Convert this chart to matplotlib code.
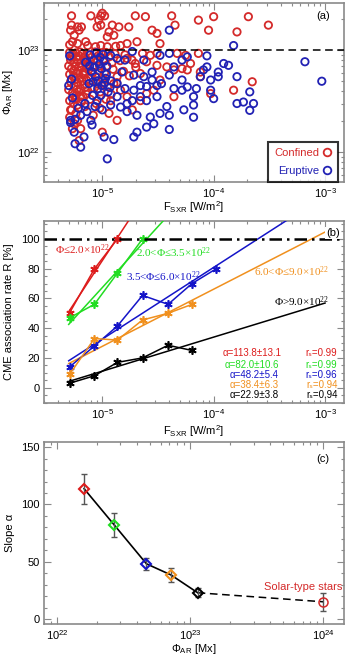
import numpy as np
import matplotlib
matplotlib.use('Agg')
import matplotlib.pyplot as plt
from matplotlib.ticker import LogLocator, MultipleLocator, FuncFormatter, NullFormatter, FixedLocator
from matplotlib.lines import Line2D

plt.rcParams['font.family'] = ['Liberation Sans', 'DejaVu Sans']
plt.rcParams['mathtext.default'] = 'regular'

# ---------------- Panel (a) data: F_SXR in 1e-6 W/m^2, Phi_AR in 1e22 Mx ----------------
confined_points = [
    (5.3, 21.7), (5.3, 17.6), (6.0, 16.9), (6.5, 16.9), (5.2, 15.7), (6.2, 15.7), (5.6, 14.0),
    (7.9, 21.7), (9.7, 21.7), (10.0, 23.0), (10.5, 21.7), (9.3, 19.7), (9.7, 17.6), (9.0, 16.9),
    (11.5, 15.1), (12.3, 17.6), (14.1, 16.9), (17.3, 16.9), (11.1, 13.5), (12.7, 14.0),
    (19.8, 21.7), (24.4, 21.3), (28, 15.7), (31, 14.6), (42, 21.7), (45, 17.6), (73, 19.7),
    (100, 21.3), (90, 15.7), (162, 15.1), (205, 21.3), (310, 17.6),
    (5.4, 12.1), (6.0, 11.6), (7.1, 12.1), (7.4, 11.1), (8.7, 10.8), (9.7, 11.1), (11.1, 10.8),
    (13.2, 10.9), (14.6, 11.1), (16.7, 11.6), (20.5, 12.1), (33, 11.6), (5.1, 11.3),
    (23, 9.3), (27, 8.9), (31, 9.3), (47, 9.3), (56, 8.9), (73, 9.3), (16.7, 8.3), (19.8, 7.4),
    (25, 7.7), (31, 7.1), (38, 6.85), (44, 6.4), (52, 6.6), (62, 7.4), (76, 6.1), (58, 6.4),
    (76, 5.5), (94, 3.75), (151, 4.05), (222, 4.9), (44, 3.5), (33, 5.1), (29, 4.05), (25, 3.75),
    (22, 3.2), (18.6, 2.6), (13.6, 2.05), (11.5, 2.4), (10, 1.57), (22, 5.9), (13.6, 5.5),
    (12.7, 4.7), (14.6, 4.05), (16.7, 3.5), (11.9, 3.2), (10.4, 4.7), (6.0, 2.05), (5.4, 1.7),
    (6.4, 1.7), (6.2, 1.3), (5.2, 2.6),
    (5.1, 9.5), (5.4, 9.0), (5.8, 9.4), (6.2, 8.8), (6.6, 9.2), (7.0, 8.6), (7.5, 9.0), (8.0, 8.5),
    (5.2, 8.0), (5.6, 7.6), (6.0, 8.1), (6.4, 7.5), (6.9, 7.9), (7.3, 7.2), (7.8, 7.7), (8.4, 7.0),
    (5.0, 7.0), (5.3, 6.6), (5.7, 6.9), (6.1, 6.3), (6.5, 6.8), (7.0, 6.2), (7.6, 6.5), (8.2, 6.0),
    (5.1, 5.8), (5.5, 5.5), (5.9, 5.9), (6.3, 5.3), (6.8, 5.7), (7.2, 5.1), (7.9, 5.4), (8.8, 5.0),
    (5.2, 4.9), (5.6, 4.5), (6.0, 4.8), (6.4, 4.2), (6.9, 4.6), (7.4, 4.0), (8.1, 4.3), (5.0, 4.1),
    (5.4, 3.8), (5.8, 3.6), (6.2, 3.9), (6.7, 3.5), (7.2, 3.7), (7.8, 3.3), (5.1, 3.2), (5.5, 3.0),
    (6.0, 2.9), (6.5, 3.1), (7.0, 2.8), (5.3, 2.6), (5.8, 2.4), (5.1, 2.2), (5.6, 1.9),
    (5.3, 8.5), (5.9, 8.6), (6.3, 9.6), (6.8, 8.3), (7.3, 8.0), (5.5, 6.2), (6.2, 6.9), (6.7, 6.0),
    (7.4, 6.9), (5.7, 5.1), (6.6, 5.0), (7.0, 4.3), (5.9, 4.1), (6.4, 3.5), (5.7, 3.3),
    (8.6, 9.6), (9.2, 8.8), (9.8, 9.3), (9.0, 7.8), (9.5, 7.0), (10.3, 8.2), (10.8, 9.5), (11.5, 8.6),
    (12.2, 7.5), (13.0, 9.2), (9.3, 6.3), (10.5, 6.0), (11.0, 7.0), (12.5, 6.5), (9.0, 4.7),
    (10.1, 5.2), (11.2, 4.4), (9.6, 3.9), (10.8, 3.3), (12.0, 3.7), (8.8, 3.0), (9.5, 2.7), (8.3, 2.3),
    (14.5, 7.9), (15.5, 6.2), (16.0, 9.0), (17.5, 5.6), (18.5, 8.0), (20.0, 6.8), (13.5, 4.8),
]
eruptive_points = [
    (40, 15.7), (151, 11.1), (660, 7.7), (935, 4.96),
    (162, 5.5), (136, 7.1), (123, 7.4), (110, 6.1), (110, 5.5), (94, 5.1), (94, 4.05), (100, 3.35),
    (162, 3.0), (185, 3.1), (211, 2.57), (228, 3.0), (211, 3.9), (87, 8.8), (87, 6.85), (81, 6.4),
    (76, 5.5), (70, 4.2), (66, 3.5), (66, 2.9), (54, 2.6), (66, 2.2), (38, 2.8), (33, 2.4),
    (29, 1.9), (40, 2.3), (40, 1.67), (27, 2.21), (25, 1.76), (20.5, 2.3), (19.2, 1.41),
    (20.5, 1.57), (16.7, 2.5), (14.6, 2.77), (12.7, 1.33), (10.4, 1.41), (11.1, 0.86),
    (5.7, 1.21), (6.4, 1.12), (6.85, 1.41), (8.1, 1.85), (7.9, 2.05), (5.6, 1.57), (5.2, 2.05),
    (11.9, 8.9), (13.6, 8.3), (16.0, 8.0), (18.6, 9.7), (23.6, 8.0), (33, 8.9), (40, 9.3),
    (52, 8.0), (58, 8.6), (44, 6.85), (40, 5.7), (34, 4.7), (31, 4.5), (28, 5.1), (25, 4.4),
    (22, 4.5), (19.2, 4.05), (16.0, 4.2), (13.6, 4.7), (15.0, 6.1), (19.2, 5.7), (23.6, 5.5),
    (28, 6.1), (52, 4.05), (58, 4.36), (44, 4.2), (52, 5.1), (31, 3.5), (25, 3.2), (22, 3.5),
    (18.6, 3.2), (16.7, 2.99), (13.6, 3.5), (11.9, 2.9),
    (5.1, 8.8), (5.3, 5.2), (5.4, 3.4), (6.1, 2.7),
    (7.1, 7.6), (7.6, 4.7), (8.0, 6.2), (8.4, 8.0), (8.7, 5.5), (9.1, 4.2), (9.4, 7.3), (9.8, 6.6),
    (10.2, 9.1), (10.5, 4.8), (10.9, 5.8), (11.3, 3.9), (8.2, 3.6), (9.0, 3.2), (7.0, 3.0),
    (6.4, 2.3), (5.2, 1.95), (5.7, 2.1), (7.3, 2.5), (8.6, 2.8), (9.7, 3.6), (10.0, 2.6),
    (11.0, 6.9), (10.4, 7.8), (9.6, 8.5), (8.9, 9.4), (7.8, 9.0), (12.0, 5.0),
    (11.7, 4.3), (9.2, 5.0), (8.3, 4.9), (5.0, 4.5),
    (9.9, 4.5), (10.7, 5.3), (8.5, 6.8), (7.7, 7.0),
]
F_unit = 1e-6
Phi_unit = 1e22
threshold_phi = 1e23

# ---------------- Panel (b) data ----------------
bins_F = [5.1e-6, 8.5e-6, 1.37e-5, 2.3e-5, 3.9e-5, 6.4e-5, 1.06e-4]
R_red = [50.4, 79.8, 100]
R_green = [47, 56, 77, 100]
R_blue = [14, 28, 41.5, 62, 56, 70, 80]
R_orange = [9, 33, 32, 45.5, 50, 56]
R_black = [3, 8, 17, 20, 28.5, 25]
slope_alpha = [113.8, 82.0, 48.2, 38.4, 22.9]
slope_err = [13.1, 10.6, 5.4, 6.3, 3.8]
r_s = [0.99, 0.99, 0.96, 0.94, 0.94]
group_labels = [r'Φ≤2.0×10$^{22}$', r'2.0<Φ≤3.5×10$^{22}$', r'3.5<Φ≤6.0×10$^{22}$',
                r'6.0<Φ≤9.0×10$^{22}$', r'Φ>9.0×10$^{22}$']

# ---------------- Panel (c) data ----------------
phi_groups = [1.6e22, 2.7e22, 4.7e22, 7.2e22, 1.14e23]
star_phi = 1e24
star_alpha = 15
star_err = 8

colors = ['#dd1c1c', '#22dd22', '#1414c8', '#f0901e', '#000000']
RED_SC = '#d42a2a'
BLUE_SC = '#2222b4'
FRAME = '#8a8a8a'

fig = plt.figure(figsize=(3.5, 6.61), dpi=100)
W, H = 350.0, 661.0
def add_ax(l, r, t, b):
    return fig.add_axes([l / W, 1 - b / H, (r - l) / W, (b - t) / H])

axa = add_ax(44, 344, 3, 182)
axb = add_ax(44, 344, 221, 403)
axc = add_ax(44, 344, 442, 624)

def style(ax):
    for s in ax.spines.values():
        s.set_color(FRAME)
        s.set_linewidth(1.2)
    ax.tick_params(which='both', direction='in', top=True, right=True, color=FRAME,
                   labelsize=8, labelcolor='black', width=0.8)
    ax.tick_params(which='major', length=5, pad=3)
    ax.tick_params(which='minor', length=2.5)

pow_fmt = FuncFormatter(lambda v, p: '10$^{%d}$' % round(np.log10(v)))

# ---- (a)
cF = [p[0] * F_unit for p in confined_points]
cP = [p[1] * Phi_unit for p in confined_points]
eF = [p[0] * F_unit for p in eruptive_points]
eP = [p[1] * Phi_unit for p in eruptive_points]
axa.set_xscale('log'); axa.set_yscale('log')
axa.scatter(cF, cP, s=28, facecolors='none', edgecolors=RED_SC, linewidths=1.3, zorder=3)
axa.scatter(eF, eP, s=28, facecolors='none', edgecolors=BLUE_SC, linewidths=1.3, zorder=4)
axa.axhline(threshold_phi, color='black', ls=(0, (5, 3)), lw=1.1, zorder=5)
axa.set_xlim(3.0e-6, 1.48e-3)
axa.set_ylim(5.1e21, 2.9e23)
axa.xaxis.set_major_locator(FixedLocator([1e-5, 1e-4, 1e-3]))
axa.xaxis.set_minor_locator(LogLocator(subs=np.arange(2, 10)))
axa.xaxis.set_major_formatter(pow_fmt)
axa.xaxis.set_minor_formatter(NullFormatter())
axa.yaxis.set_major_locator(FixedLocator([1e22, 1e23]))
axa.yaxis.set_minor_locator(LogLocator(subs=np.arange(2, 10)))
axa.yaxis.set_major_formatter(pow_fmt)
axa.yaxis.set_minor_formatter(NullFormatter())
style(axa)
axa.set_xlabel('F$_{SXR}$ [W/m$^2$]', fontsize=8)
axa.set_ylabel('Φ$_{AR}$ [Mx]', fontsize=8)
axa.xaxis.set_label_coords(0.5, -0.095)
axa.yaxis.set_label_coords(-0.095, 0.5)
axa.text(0.93, 0.93, '(a)', transform=axa.transAxes, ha='center', va='center', fontsize=8)
handles = [Line2D([], [], ls='none', marker='o', mfc='none', mec=RED_SC, mew=1.3, ms=5.5, label='Confined'),
           Line2D([], [], ls='none', marker='o', mfc='none', mec=BLUE_SC, mew=1.3, ms=5.5, label='Eruptive')]
leg = axa.legend(handles=handles, loc='lower right', bbox_to_anchor=(0.98, 0.0), markerfirst=False,
                 fontsize=8, labelcolor='markeredgecolor', frameon=True, fancybox=False,
                 borderaxespad=0.0, handlelength=0.8, handletextpad=0.35, borderpad=0.55,
                 labelspacing=0.7)
leg.get_frame().set_edgecolor('black')
leg.get_frame().set_linewidth(1.5)
leg.set_zorder(10)

# ---- (b)
axb.set_xscale('log')
series = [R_red, R_green, R_blue, R_orange, R_black]
xfit = np.array([bins_F[0] * 0.98, 1e-3])
for R, a, c in zip(series, slope_alpha, colors):
    xs = np.array(bins_F[:len(R)])
    lx = np.log10(xs)
    b0 = np.mean(np.array(R) - a * lx)
    axb.plot(xfit, a * np.log10(xfit) + b0, color=c, lw=1.1, zorder=3)
    axb.plot(xs, R, color=c, lw=1.1, marker=(6, 2, 0), ms=6, mew=1.2, zorder=4)
axb.axhline(100, color='black', ls=(0, (5, 2, 1, 2)), lw=1.8, zorder=5)
axb.set_xlim(3.0e-6, 1.48e-3)
axb.set_ylim(-10.3, 112)
axb.xaxis.set_major_locator(FixedLocator([1e-5, 1e-4, 1e-3]))
axb.xaxis.set_minor_locator(LogLocator(subs=np.arange(2, 10)))
axb.xaxis.set_major_formatter(pow_fmt)
axb.xaxis.set_minor_formatter(NullFormatter())
axb.yaxis.set_major_locator(MultipleLocator(20))
axb.yaxis.set_minor_locator(MultipleLocator(5))
style(axb)
axb.set_xlabel('F$_{SXR}$ [W/m$^2$]', fontsize=8)
axb.set_ylabel('CME association rate R [%]', fontsize=8)
axb.xaxis.set_label_coords(0.5, -0.112)
axb.yaxis.set_label_coords(-0.1, 0.5)
axb.text(0.963, 0.934, '(b)', transform=axb.transAxes, ha='center', va='center', fontsize=8,
         bbox=dict(facecolor='white', edgecolor='none', pad=0.5), zorder=6)
serif = ['Liberation Serif', 'DejaVu Serif']
lab_pos = [(0.037, 0.84, 'left'), (0.307, 0.824, 'left'), (0.273, 0.692, 'left'),
           (0.95, 0.72, 'right'), (0.95, 0.555, 'right')]
for (x, y, ha), t, c in zip(lab_pos, group_labels, colors):
    axb.text(x, y, t, transform=axb.transAxes, ha=ha, va='center', color=c, fontsize=8,
             family=serif)
a_x = [0.597, 0.603, 0.62, 0.62, 0.62]
a_y = [0.275, 0.209, 0.154, 0.099, 0.044]
for i in range(5):
    axb.text(a_x[i], a_y[i], 'α=%.1f±%.1f' % (slope_alpha[i], slope_err[i]), transform=axb.transAxes,
             ha='left', va='center', color=colors[i], fontsize=7)
    axb.text(0.978, a_y[i], 'rₛ=%.2f' % r_s[i], transform=axb.transAxes,
             ha='right', va='center', color=colors[i], fontsize=7,
             family=['Liberation Sans', 'DejaVu Sans'])

# ---- (c)
axc.set_xscale('log')
axc.plot(phi_groups, slope_alpha, color='black', lw=1.2, zorder=2)
axc.plot([phi_groups[-1], star_phi], [slope_alpha[-1], star_alpha], color='black', lw=1.1,
         ls=(0, (5, 3)), zorder=2)
axc.errorbar(phi_groups, slope_alpha, yerr=slope_err, fmt='none', ecolor='#555555', elinewidth=1.0,
             capsize=2.5, capthick=1.0, zorder=3)
axc.errorbar([star_phi], [star_alpha], yerr=[star_err], fmt='none', ecolor='#555555', elinewidth=1.0,
             capsize=2.5, capthick=1.0, zorder=3)
for x, y, c in zip(phi_groups, slope_alpha, colors):
    axc.plot([x], [y], marker='D', ms=5.5, mfc='none', mec=c, mew=1.5, zorder=4)
axc.plot([star_phi], [star_alpha], marker='o', ms=6.5, mfc='none', mec=RED_SC, mew=1.1, zorder=4)
axc.set_xlim(8.0e21, 1.43e24)
axc.set_ylim(-4.4, 154.6)
axc.xaxis.set_major_locator(FixedLocator([1e22, 1e23, 1e24]))
axc.xaxis.set_minor_locator(LogLocator(subs=np.arange(2, 10)))
axc.xaxis.set_major_formatter(pow_fmt)
axc.xaxis.set_minor_formatter(NullFormatter())
axc.yaxis.set_major_locator(MultipleLocator(50))
axc.yaxis.set_minor_locator(MultipleLocator(10))
style(axc)
axc.set_xlabel('Φ$_{AR}$ [Mx]', fontsize=8)
axc.set_ylabel('Slope α', fontsize=8)
axc.xaxis.set_label_coords(0.5, -0.1)
axc.yaxis.set_label_coords(-0.095, 0.5)
axc.text(0.93, 0.907, '(c)', transform=axc.transAxes, ha='center', va='center', fontsize=8)
axc.text(0.995, 0.203, 'Solar-type stars', transform=axc.transAxes, ha='right', va='center',
         color=RED_SC, fontsize=8)

fig.savefig('out.png', dpi=100)
